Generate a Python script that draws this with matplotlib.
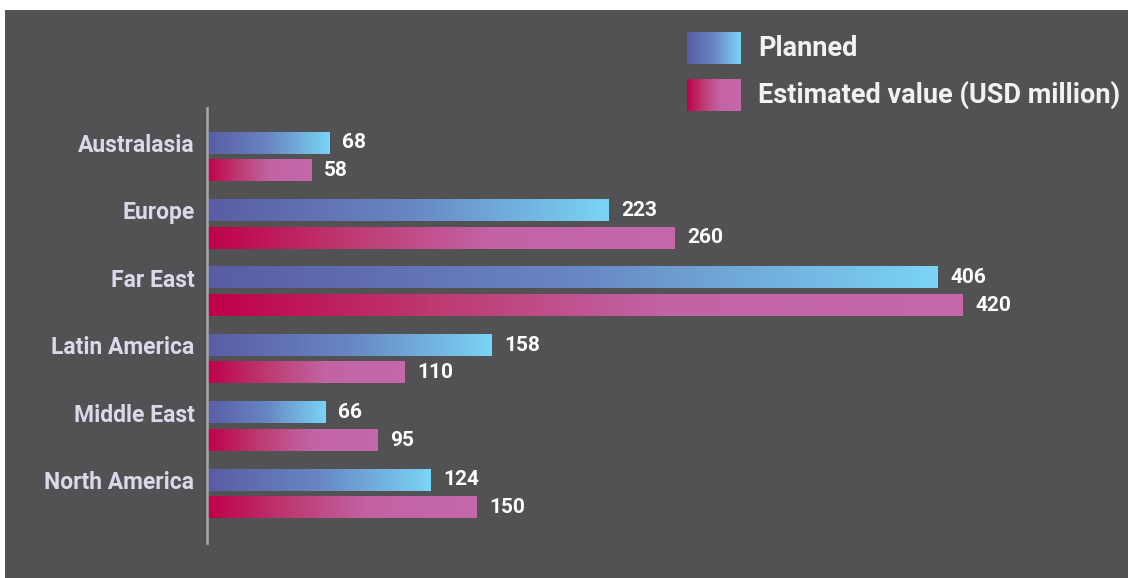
import matplotlib.pyplot as plt
import numpy as np
from matplotlib.colors import LinearSegmentedColormap
from matplotlib.patches import Rectangle

regions = ['Australasia', 'Europe', 'Far East', 'Latin America', 'Middle East', 'North America']
planned = [68, 223, 406, 158, 66, 124]
estimated = [58, 260, 420, 110, 95, 150]
series_names = ['Planned', 'Estimated value (USD million)']

BG = '#525254'
FONT = 'Roboto'

cmap_plan = LinearSegmentedColormap.from_list('plan', ['#5a5ca3', '#6886c2', '#7ad4f5'])
cmap_est = LinearSegmentedColormap.from_list('est', [(0, '#bf0049'), (0.3, '#bd3a70'),
                                                      (0.6, '#c263a4'), (1, '#c468aa')])
grad = np.linspace(0, 1, 256).reshape(1, -1)

fig = plt.figure(figsize=(11.28, 5.78), dpi=100, facecolor='white')
fig.patches.append(Rectangle((5 / 1128, 0), 1, 568 / 578, transform=fig.transFigure,
                             facecolor=BG, edgecolor='none', zorder=-10))

ax = fig.add_axes([207 / 1128, 35 / 578, 900 / 1128, 435 / 578])
ax.set_facecolor('none')

y = np.arange(len(regions))
h = 0.32
off = 0.205

def gradient_bars(values, ypos, cmap):
    bars = ax.barh(ypos, values, height=h, color='none', edgecolor='none')
    for b, v in zip(bars, values):
        x0, y0, w, hh = b.get_x(), b.get_y(), b.get_width(), b.get_height()
        ax.imshow(grad, cmap=cmap, aspect='auto', extent=(x0, x0 + w, y0 + hh, y0),
                  interpolation='bilinear', zorder=2)
        ax.text(x0 + w + 7, y0 + hh / 2, str(v), color='white', fontsize=15,
                fontweight='bold', family=FONT, va='center', ha='left')
    return bars

gradient_bars(planned, y - off, cmap_plan)
gradient_bars(estimated, y + off, cmap_est)
ax.set_xlim(0, 500)
ax.set_ylim(5.73, -0.72)

ax.set_yticks(y - off)
ax.set_yticklabels(regions, fontsize=16.5, fontweight='bold', family=FONT, color='#d9d9ea')
ax.tick_params(axis='y', length=0, pad=9)
ax.set_xticks([])
for s in ['top', 'right', 'bottom']:
    ax.spines[s].set_visible(False)
ax.spines['left'].set_color('#a9a9ab')
ax.spines['left'].set_linewidth(1.8)

# legend with gradient swatches
for i, (name, cm) in enumerate(zip(series_names, [cmap_plan, cmap_est])):
    top = 32 + i * 47
    lax = fig.add_axes([687 / 1128, (578 - top - 32) / 578, 54 / 1128, 32 / 578])
    lax.imshow(grad, cmap=cm, aspect='auto', interpolation='bilinear')
    lax.axis('off')
    fig.text(758 / 1128, (578 - top - 16) / 578, name, color='#f2f2f2', fontsize=19.5,
             fontweight='bold', family=FONT, va='center', ha='left')

fig.savefig('out.png', dpi=100, facecolor=fig.get_facecolor())
